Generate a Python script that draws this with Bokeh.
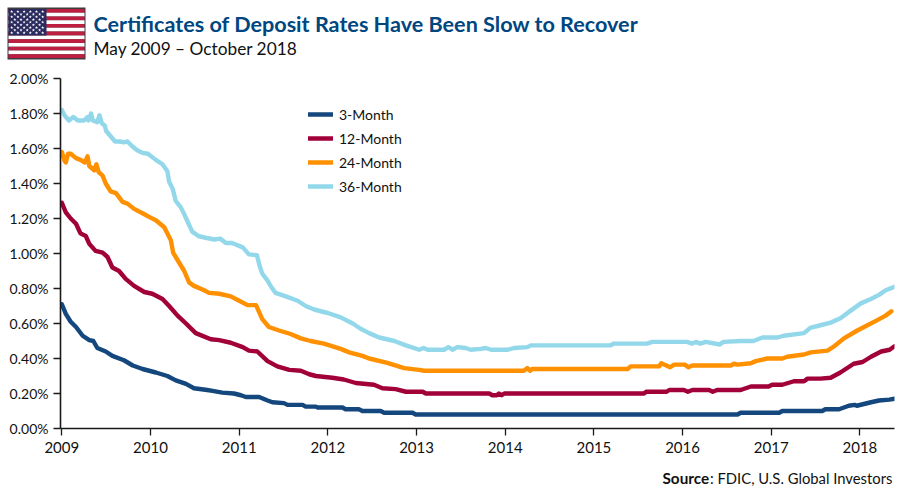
from bokeh.embed import file_html
from bokeh.resources import INLINE
from bokeh.layouts import column
from bokeh.core.properties import value
from bokeh.models import Range1d, FixedTicker, CustomJSTickFormatter, Legend, LegendItem
from bokeh.plotting import figure

title = "Certificates of Deposit Rates Have Been Slow to Recover"
subtitle = "May 2009 – October 2018"
source_head = "Source"
source_tail = ": FDIC, U.S. Global Investors"
years = list(range(2009, 2019))
yticks = [0, .2, .4, .6, .8, 1.0, 1.2, 1.4, 1.6, 1.8, 2.0]

t36 = [2009,2009.03,2009.08,2009.13,2009.18,2009.25,2009.29,2009.30,2009.33,2009.35,2009.40,2009.425,2009.45,2009.485,2009.50,2009.55,2009.60,2009.65,2009.70,2009.74,2009.80,2009.85,2009.91,2009.97,2010.06,2010.135,2010.19,2010.21,2010.25,2010.285,2010.34,2010.38,2010.42,2010.47,2010.54,2010.62,2010.72,2010.785,2010.85,2010.92,2011.04,2011.11,2011.20,2011.23,2011.26,2011.32,2011.36,2011.41,2011.525,2011.66,2011.75,2011.845,2012.00,2012.145,2012.28,2012.37,2012.465,2012.58,2012.75,2012.88,2013.03,2013.08,2013.125,2013.31,2013.36,2013.405,2013.46,2013.555,2013.61,2013.725,2013.78,2013.84,2014.03,2014.10,2014.25,2014.29,2015.19,2015.22,2015.60,2015.66,2016.05,2016.11,2016.15,2016.20,2016.26,2016.42,2016.46,2016.655,2016.80,2016.90,2017.07,2017.14,2017.37,2017.44,2017.555,2017.67,2017.78,2017.90,2018.01,2018.125,2018.22,2018.29,2018.39]
v36 = [1.82,1.79,1.76,1.78,1.76,1.76,1.78,1.76,1.80,1.76,1.75,1.79,1.745,1.73,1.70,1.67,1.64,1.64,1.635,1.64,1.61,1.59,1.575,1.57,1.535,1.51,1.47,1.41,1.37,1.30,1.265,1.225,1.18,1.125,1.10,1.09,1.08,1.085,1.06,1.06,1.035,.995,.99,.93,.885,.845,.81,.775,.755,.73,.70,.68,.66,.635,.60,.57,.545,.52,.50,.475,.45,.46,.45,.45,.465,.45,.465,.46,.45,.455,.46,.45,.45,.46,.465,.475,.475,.485,.485,.495,.495,.485,.495,.485,.495,.48,.495,.50,.50,.52,.52,.53,.545,.575,.59,.605,.63,.675,.715,.74,.765,.79,.81]

t24 = [2009,2009.03,2009.045,2009.07,2009.10,2009.16,2009.21,2009.26,2009.29,2009.31,2009.365,2009.39,2009.415,2009.46,2009.495,2009.55,2009.61,2009.685,2009.74,2009.815,2009.91,2010.00,2010.06,2010.155,2010.23,2010.255,2010.32,2010.38,2010.435,2010.49,2010.605,2010.66,2010.775,2010.905,2011.00,2011.095,2011.19,2011.26,2011.335,2011.45,2011.58,2011.695,2011.805,2011.955,2012.145,2012.24,2012.39,2012.465,2012.67,2012.86,2013.03,2013.085,2014.21,2014.25,2014.28,2014.305,2015.38,2015.415,2015.735,2015.76,2015.86,2015.905,2016.025,2016.065,2016.11,2016.545,2016.58,2016.62,2016.77,2016.825,2016.955,2017.125,2017.18,2017.37,2017.445,2017.635,2017.71,2017.82,2017.97,2018.085,2018.18,2018.29,2018.355]
v24 = [1.58,1.53,1.52,1.57,1.57,1.545,1.535,1.52,1.555,1.50,1.475,1.51,1.465,1.445,1.40,1.355,1.345,1.295,1.285,1.255,1.23,1.205,1.19,1.15,1.075,1.005,.95,.90,.835,.815,.79,.775,.77,.755,.73,.705,.705,.625,.58,.56,.54,.515,.50,.485,.455,.435,.415,.40,.375,.345,.335,.33,.33,.345,.33,.34,.34,.355,.355,.373,.35,.365,.365,.35,.36,.36,.37,.365,.373,.385,.40,.40,.41,.423,.435,.445,.47,.515,.56,.59,.615,.645,.67]

t12 = [2009,2009.045,2009.10,2009.16,2009.21,2009.27,2009.31,2009.38,2009.46,2009.515,2009.57,2009.645,2009.72,2009.815,2009.93,2010.02,2010.135,2010.21,2010.305,2010.40,2010.51,2010.68,2010.775,2010.905,2011.04,2011.11,2011.205,2011.32,2011.43,2011.565,2011.695,2011.79,2011.865,2012.05,2012.18,2012.315,2012.52,2012.615,2012.765,2012.88,2013.07,2013.105,2013.82,2013.855,2013.905,2013.93,2013.96,2013.99,2015.565,2015.59,2015.82,2015.85,2016.015,2016.06,2016.11,2016.30,2016.34,2016.39,2016.655,2016.77,2016.97,2017.01,2017.125,2017.255,2017.37,2017.41,2017.555,2017.67,2017.78,2017.93,2018.03,2018.125,2018.24,2018.335,2018.39]
v12 = [1.29,1.235,1.20,1.17,1.115,1.10,1.055,1.015,1.005,.98,.92,.90,.855,.815,.78,.77,.74,.70,.645,.60,.545,.51,.505,.49,.465,.445,.44,.385,.355,.335,.33,.31,.30,.29,.28,.26,.25,.23,.225,.21,.21,.20,.20,.19,.19,.20,.19,.20,.20,.21,.21,.22,.22,.21,.22,.22,.21,.22,.22,.24,.24,.25,.25,.27,.27,.285,.285,.29,.32,.37,.38,.41,.44,.45,.47]

t3 = [2009,2009.045,2009.10,2009.16,2009.235,2009.31,2009.355,2009.40,2009.495,2009.57,2009.70,2009.80,2009.91,2010.06,2010.19,2010.285,2010.40,2010.49,2010.64,2010.70,2010.81,2010.94,2011.02,2011.075,2011.225,2011.32,2011.375,2011.505,2011.545,2011.715,2011.75,2011.865,2011.885,2012.165,2012.20,2012.35,2012.39,2012.595,2012.635,2012.955,2012.99,2016.62,2016.655,2017.09,2017.125,2017.575,2017.61,2017.765,2017.875,2017.94,2017.965,2018.125,2018.215,2018.33,2018.39]
v3 = [.71,.655,.61,.58,.53,.505,.50,.46,.44,.415,.39,.36,.34,.32,.30,.275,.255,.23,.22,.215,.205,.20,.19,.18,.18,.16,.15,.145,.135,.135,.125,.125,.12,.12,.11,.11,.10,.10,.09,.09,.08,.08,.09,.09,.10,.10,.11,.11,.13,.135,.13,.15,.16,.165,.17]

series = [("3-Month", t3, v3, "#14477D"), ("12-Month", t12, v12, "#A10038"),
          ("24-Month", t24, v24, "#FF9000"), ("36-Month", t36, v36, "#92D8EA")]

FONT = "Lato"
INK = "#111111"

# ---- header: flag and titles, in a figure whose data units are its pixels
head = figure(width=900, height=66, output_backend="svg", toolbar_location=None,
              x_range=Range1d(0, 900), y_range=Range1d(66, 0),
              min_border=0, outline_line_color=None, frame_align=False)
head.axis.visible = False
head.grid.visible = False
head.quad(left=[7], right=[85], top=[7], bottom=[59], fill_color="#3B3B40", line_color=None)
n = 13
fl, fr, ft, fb = 8, 84, 8.5, 57.5
sh = (fb - ft) / n
for i in range(n):
    head.quad(left=[fl], right=[fr], top=[ft + i * sh], bottom=[ft + (i + 1) * sh],
              fill_color="#BE1E40" if i % 2 == 0 else "#FFFFFF", line_color=None)
head.quad(left=[fl], right=[46], top=[ft], bottom=[ft + 7 * sh], fill_color="#2A2B5F", line_color=None)
sx, sy = [], []
for r in range(9):
    for c in range(6 if r % 2 == 0 else 5):
        sx.append(fl + 3.2 + c * 6.2 + (0 if r % 2 == 0 else 3.1))
        sy.append(ft + 2.6 + r * 2.65)
head.scatter(sx, sy, marker="star", size=3.4, fill_color="#FFFFFF", line_color=None)
head.text([93], [23], text=[title], text_font=value(FONT), text_font_style="bold",
          text_font_size="21.6px", text_color="#00467F", text_baseline="middle")
head.text([93], [48], text=[subtitle], text_font=value(FONT), text_font_size="17.3px",
          text_color=INK, text_baseline="middle")

# ---- chart
p = figure(width=900, height=400, output_backend="svg", toolbar_location=None,
           x_range=Range1d(2008.985, 2018.39), y_range=Range1d(0, 2),
           min_border_left=60, min_border_right=6, min_border_top=12, min_border_bottom=38,
           outline_line_color=None, frame_align=False)
p.grid.visible = False
items = []
for name, t, v, color in series:
    r = p.line(t, v, line_color=color, line_width=4.4, line_join="round", line_cap="round")
    items.append(LegendItem(label=name, renderers=[r]))

leg = Legend(items=items, location=(248, 233), border_line_color=None, background_fill_alpha=0,
             padding=0, margin=0, spacing=6, glyph_width=25, glyph_height=18, label_standoff=6,
             label_text_font=FONT, label_text_font_size="14px", label_text_color=INK,
             label_height=18)
p.add_layout(leg)

for ax in (p.xaxis[0], p.yaxis[0]):
    ax.axis_line_color = "#1A1A1A"
    ax.axis_line_width = 1.6
    ax.major_tick_line_color = "#1A1A1A"
    ax.major_tick_line_width = 1.3
    ax.major_tick_in = 0
    ax.major_tick_out = 7
    ax.minor_tick_line_color = None
    ax.major_label_text_font = FONT
    ax.major_label_text_color = INK
p.xaxis[0].major_label_text_font_size = "15px"
p.yaxis[0].major_label_text_font_size = "14px"
p.xaxis[0].ticker = FixedTicker(ticks=years)
p.xaxis[0].major_label_standoff = 6
p.xaxis[0].formatter = CustomJSTickFormatter(code="return String(tick);")
p.yaxis[0].ticker = FixedTicker(ticks=yticks)
p.yaxis[0].major_label_standoff = 5
p.yaxis[0].formatter = CustomJSTickFormatter(code="return tick.toFixed(2) + '%';")

# ---- footer: source line
foot = figure(width=900, height=23, output_backend="svg", toolbar_location=None,
              x_range=Range1d(0, 900), y_range=Range1d(23, 0),
              min_border=0, outline_line_color=None, frame_align=False)
foot.axis.visible = False
foot.grid.visible = False
foot.text([662], [11], text=[source_head], text_font=value(FONT), text_font_style="bold",
          text_font_size="15.3px", text_color=INK, text_baseline="middle")
foot.text([709.5], [11], text=[source_tail], text_font=value(FONT),
          text_font_size="14.8px", text_color=INK, text_baseline="middle")

layout = column(head, p, foot, spacing=0)
open("out.html", "w").write(file_html(layout, INLINE))
